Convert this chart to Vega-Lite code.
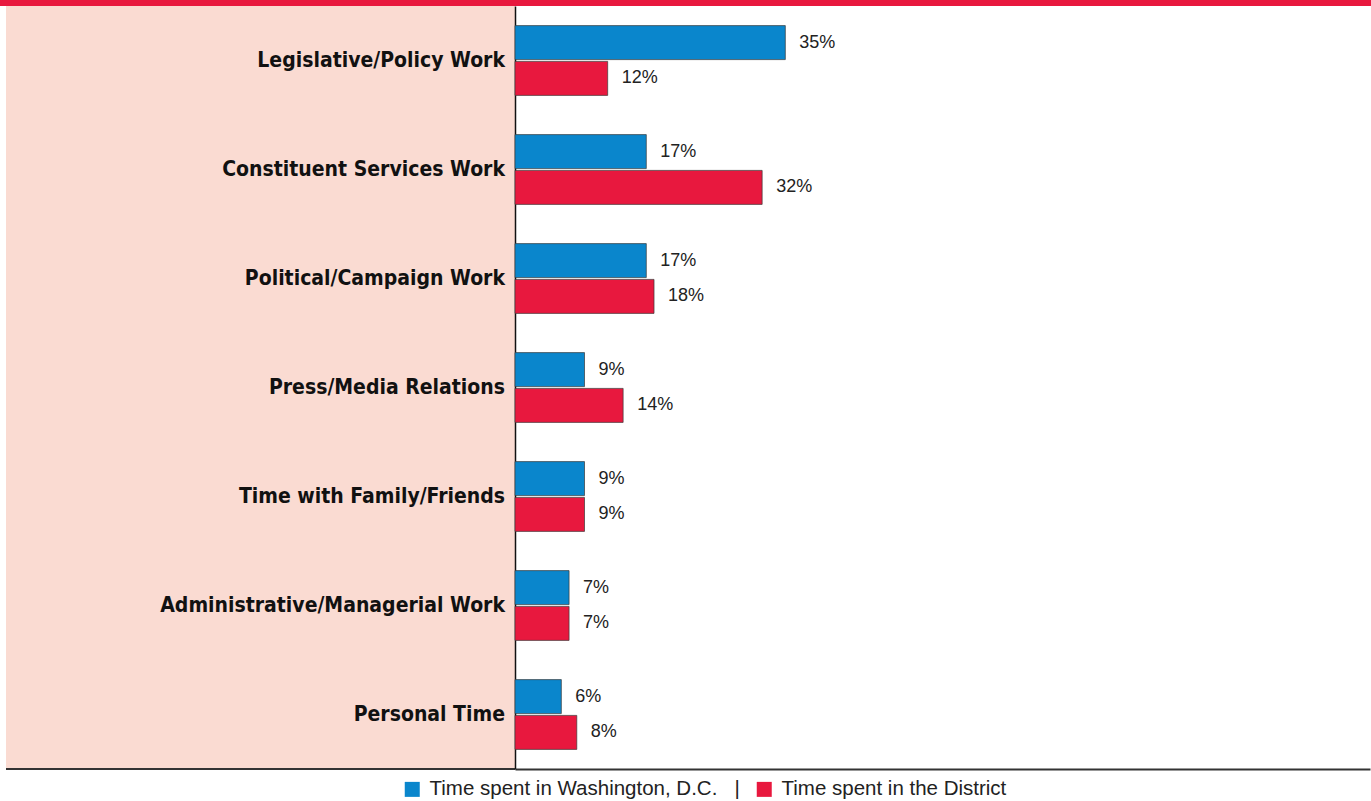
{
  "$schema": "https://vega.github.io/schema/vega-lite/v6.json",
  "padding": 0,
  "background": "white",
  "spacing": 0,
  "bounds": "flush",
  "config": {"view": {"stroke": null}, "concat": {"spacing": 0}, "font": "Liberation Sans"},
  "datasets": {
    "d": [
      {"activity": "Legislative/Policy Work", "place": "Time spent in Washington, D.C.", "pct": 0.35},
      {"activity": "Legislative/Policy Work", "place": "Time spent in the District", "pct": 0.12},
      {"activity": "Constituent Services Work", "place": "Time spent in Washington, D.C.", "pct": 0.17},
      {"activity": "Constituent Services Work", "place": "Time spent in the District", "pct": 0.32},
      {"activity": "Political/Campaign Work", "place": "Time spent in Washington, D.C.", "pct": 0.17},
      {"activity": "Political/Campaign Work", "place": "Time spent in the District", "pct": 0.18},
      {"activity": "Press/Media Relations", "place": "Time spent in Washington, D.C.", "pct": 0.09},
      {"activity": "Press/Media Relations", "place": "Time spent in the District", "pct": 0.14},
      {"activity": "Time with Family/Friends", "place": "Time spent in Washington, D.C.", "pct": 0.09},
      {"activity": "Time with Family/Friends", "place": "Time spent in the District", "pct": 0.09},
      {"activity": "Administrative/Managerial Work", "place": "Time spent in Washington, D.C.", "pct": 0.07},
      {"activity": "Administrative/Managerial Work", "place": "Time spent in the District", "pct": 0.07},
      {"activity": "Personal Time", "place": "Time spent in Washington, D.C.", "pct": 0.06},
      {"activity": "Personal Time", "place": "Time spent in the District", "pct": 0.08}
    ]
  },
  "vconcat": [
    {
      "width": 1371,
      "height": 6,
      "view": {"fill": "#e8183e", "stroke": null},
      "data": {"values": [{}]},
      "mark": {"type": "rect", "color": "#e8183e"},
      "encoding": {}
    },
    {
      "spacing": 0,
      "bounds": "flush",
      "hconcat": [
        {
          "width": 6,
          "height": 763,
          "view": {"fill": "white", "stroke": null},
          "data": {"values": [{}]},
          "mark": {"type": "rect", "color": "white"},
          "encoding": {}
        },
        {
          "width": 509,
          "height": 763,
          "view": {"fill": "#fadbd2", "stroke": null},
          "layer": [
            {
              "data": {"name": "d"},
              "transform": [{"filter": "datum.place == 'Time spent in Washington, D.C.'"}],
              "mark": {"type": "text", "x": "width", "dx": -10, "align": "right", "baseline": "middle", "font": "'DejaVu Sans Condensed', 'Liberation Sans Narrow', Roboto", "fontWeight": "bold", "fontSize": 21, "color": "#111"},
              "encoding": {
                "y": {"field": "activity", "type": "nominal", "sort": null, "axis": null, "scale": {"paddingInner": 0.36, "paddingOuter": 0.18}},
                "text": {"field": "activity"}
              }
            },
            {
              "data": {"values": [{}]},
              "mark": {"type": "rule", "color": "#333", "strokeWidth": 2},
              "encoding": {"y": {"value": "height"}}
            }
          ]
        },
        {
          "width": 855,
          "height": 763,
          "data": {"name": "d"},
          "encoding": {
            "y": {"field": "activity", "type": "nominal", "sort": null, "scale": {"paddingInner": 0.36, "paddingOuter": 0.18},
                  "axis": {"labels": false, "ticks": false, "title": null, "domainColor": "#111", "domainWidth": 1.5}},
            "yOffset": {"field": "place", "sort": null, "scale": {"paddingInner": 0.05}},
            "x": {"field": "pct", "type": "quantitative", "scale": {"domain": [0, 1.107]},
                  "axis": {"labels": false, "ticks": false, "grid": false, "title": null, "domainColor": "#333", "domainWidth": 2}}
          },
          "layer": [
            {
              "mark": {"type": "bar", "stroke": "#3a3a3a", "strokeWidth": 0.7},
              "encoding": {
                "color": {"field": "place", "type": "nominal", "sort": null,
                  "scale": {"range": ["#0a86cc", "#e8183e"]},
                  "legend": {"orient": "none", "legendX": 402, "legendY": 779, "direction": "horizontal", "title": null,
                    "symbolType": "square", "symbolSize": 225, "symbolStrokeWidth": 0, "symbolOpacity": 1,
                    "labelFontSize": 20.5, "labelFont": "Liberation Sans", "labelColor": "#222", "labelLimit": 0, "columnPadding": 14, "labelOffset": 7,
                    "labelExpr": "datum.label == 'Time spent in Washington, D.C.' ? datum.label + '\u00a0\u00a0\u00a0|' : datum.label"}
                }
              }
            },
            {
              "mark": {"type": "text", "align": "left", "dx": 14, "baseline": "middle", "fontSize": 18, "color": "#222"},
              "encoding": {"text": {"field": "pct", "format": ".0%"}}
            }
          ]
        }
      ]
    }
  ]
}
